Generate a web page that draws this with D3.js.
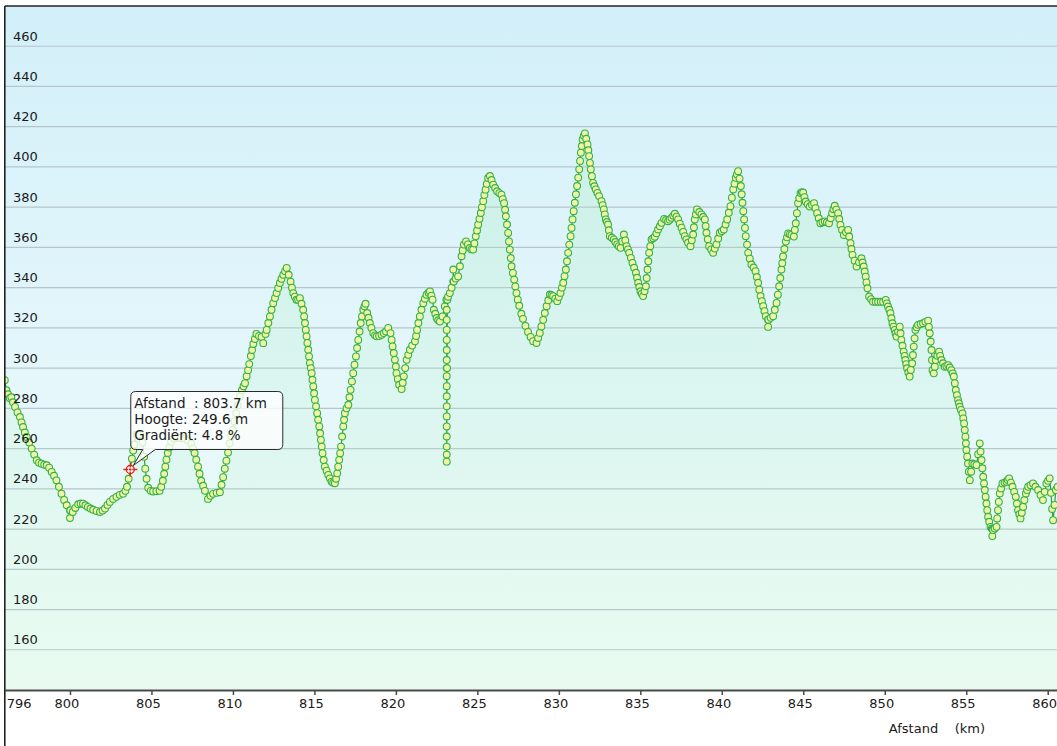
<!DOCTYPE html>
<html>
<head>
<meta charset="utf-8">
<script src="https://cdn.jsdelivr.net/npm/d3@7"></script>
<style>
    body { margin: 0; background: #fff; }
    svg text { font-family: 'DejaVu Sans', Verdana, sans-serif; fill: #1a1a1a; }
</style>
</head>
<body>
<svg id="chart" width="1057" height="746"></svg>
<script>
// elevation profile, [distance km, height m]
let profile = [
    [796.0, 294], [796.1, 289], [796.2, 287], [796.3, 285], [796.4, 285.5], [796.5, 283],
    [796.63, 280.7], [796.78, 278], [796.93, 275.7], [797.03, 273], [797.12, 270.7],
    [797.23, 268], [797.34, 265.8], [797.5, 263], [797.65, 260], [797.8, 257], [797.96, 254.2],
    [798.1, 253], [798.26, 252.5], [798.42, 252], [798.57, 251.7], [798.72, 250.5],
    [798.88, 248.4], [799.02, 246.5], [799.17, 244.2], [799.32, 241], [799.48, 237.6],
    [799.64, 234.5], [799.8, 231.8], [800.0, 229.3], [800.0, 225.5], [800.02, 229.3],
    [800.17, 228.5], [800.33, 230.5], [800.5, 232.3], [800.65, 232.7], [800.8, 232.6],
    [800.95, 231.8], [801.1, 231], [801.26, 230.2], [801.42, 229.6], [801.63, 229],
    [801.84, 228.5], [802.0, 229.2], [802.15, 230.2], [802.3, 232], [802.45, 233.5],
    [802.65, 235], [802.85, 236], [803.05, 237], [803.26, 237.6], [803.4, 239], [803.5, 241],
    [803.6, 245], [803.7, 249.6], [803.8, 255], [803.88, 259], [803.95, 262], [804.1, 267],
    [804.3, 267], [804.45, 263], [804.55, 256], [804.62, 250], [804.7, 245], [804.8, 240.5],
    [804.95, 239], [805.1, 238.7], [805.3, 238.8], [805.5, 239], [805.6, 241], [805.7, 244],
    [805.78, 247.5], [805.85, 251], [805.92, 254.5], [806.0, 257.8], [806.1, 260.5],
    [806.2, 263.4], [806.4, 265], [806.55, 265.5], [806.8, 265.3], [807.05, 265],
    [807.25, 264], [807.45, 262.5], [807.55, 260], [807.65, 257.8], [807.75, 254.5],
    [807.86, 251], [807.95, 247.5], [808.05, 244], [808.17, 241.5], [808.28, 239],
    [808.47, 235], [808.62, 236.5], [808.78, 237.5], [809.0, 238], [809.2, 238.3],
    [809.3, 242], [809.4, 245.8], [809.5, 250], [809.6, 254], [809.7, 258], [809.8, 262.6],
    [809.9, 266], [810.0, 269.3], [810.1, 273.5], [810.2, 277.6], [810.3, 281.5],
    [810.43, 285.9], [810.55, 289], [810.65, 291], [810.74, 292.5], [810.84, 296],
    [810.93, 299], [811.0, 302], [811.1, 306], [811.18, 309], [811.25, 312], [811.35, 314.5],
    [811.44, 317], [811.6, 316], [811.76, 315.5], [811.86, 312.4], [812.0, 317], [812.07, 319],
    [812.17, 322.4], [812.27, 325.7], [812.37, 329], [812.47, 332.3], [812.58, 334.8],
    [812.68, 337.3], [812.78, 339.8], [812.88, 342.3], [812.98, 344.4], [813.09, 346.4],
    [813.2, 348.2], [813.3, 349.8], [813.42, 346.4], [813.54, 343], [813.62, 340],
    [813.7, 337.3], [813.8, 335.5], [813.9, 334], [814.0, 334], [814.11, 334.8], [814.21, 332],
    [814.31, 329], [814.37, 325.7], [814.42, 322.4], [814.47, 319], [814.52, 315.8],
    [814.57, 312.5], [814.62, 309.1], [814.67, 305.8], [814.72, 302.5], [814.78, 300],
    [814.83, 297.5], [814.88, 294.2], [814.93, 290.9], [814.98, 287.5], [815.03, 284.2],
    [815.1, 281], [815.17, 277.6], [815.23, 274.3], [815.3, 271], [815.35, 267.6],
    [815.4, 264.3], [815.45, 261], [815.5, 257.7], [815.57, 254.3], [815.64, 251],
    [815.75, 249], [815.85, 246.9], [815.95, 245.2], [816.05, 243.6], [816.15, 243],
    [816.26, 242.8], [816.33, 245], [816.4, 247.7], [816.46, 251], [816.52, 254.4],
    [816.58, 257.7], [816.63, 261], [816.7, 266], [816.77, 271], [816.82, 274.3],
    [816.87, 277.6], [816.97, 280], [817.08, 281.8], [817.15, 285.5], [817.22, 289.2],
    [817.3, 293.4], [817.38, 297.5], [817.46, 301.7], [817.55, 305.8], [817.62, 310],
    [817.69, 314], [817.77, 318.2], [817.84, 322.4], [817.92, 325.7], [818.0, 329],
    [818.07, 330.7], [818.14, 332], [818.24, 327.4], [818.32, 325], [818.4, 322.4],
    [818.5, 320], [818.61, 317.4], [818.72, 316.3], [818.82, 315.8], [818.97, 316],
    [819.12, 316.6], [819.25, 317.4], [819.39, 318.2], [819.53, 320], [819.67, 317.4],
    [819.74, 314], [819.8, 310.8], [819.87, 307.5], [819.94, 304.1], [820.0, 300.8],
    [820.04, 297.5], [820.12, 294.5], [820.2, 291.7], [820.35, 289.6], [820.42, 292.7],
    [820.49, 295.9], [820.57, 300], [820.66, 304.1], [820.76, 306.6], [820.86, 309.1],
    [821.0, 311.2], [821.17, 313.3], [821.24, 316], [821.3, 319], [821.38, 322.4],
    [821.47, 325.7], [821.57, 329], [821.68, 332.3], [821.78, 334.5], [821.88, 336.5],
    [822.0, 337.5], [822.09, 338.1], [822.18, 336], [822.25, 334], [822.33, 329],
    [822.42, 327], [822.5, 324.9], [822.6, 323.8], [822.7, 323.2], [822.86, 325.7],
    [823.0, 330.7], [823.1, 334],
    // GPS drop-out spike
    [823.12, 329], [823.12, 324], [823.12, 319], [823.12, 314], [823.12, 309], [823.12, 304],
    [823.12, 300], [823.12, 296], [823.12, 291], [823.12, 286], [823.12, 281], [823.12, 276],
    [823.12, 271], [823.12, 266], [823.12, 261], [823.12, 257], [823.12, 253.5],
    [823.14, 300], [823.16, 334],
    [823.2, 335.5], [823.31, 337.3], [823.42, 340], [823.52, 343], [823.52, 349],
    [823.55, 343], [823.67, 344.5], [823.82, 345.6], [823.93, 350.6], [824.03, 355.6],
    [824.1, 358.5], [824.17, 361.4], [824.3, 363], [824.42, 361.5], [824.54, 359.7],
    [824.64, 359], [824.74, 358.9], [824.82, 362], [824.9, 365.5], [824.98, 368.4],
    [825.05, 371.3], [825.13, 374.2], [825.21, 377.1], [825.28, 380], [825.36, 383],
    [825.43, 386], [825.5, 388.7], [825.58, 391.6], [825.66, 394.5], [825.77, 395.5],
    [825.87, 393.5], [825.97, 391.2], [826.09, 389.5], [826.21, 387.9], [826.35, 387],
    [826.48, 386.2], [826.56, 384], [826.64, 382], [826.7, 378.7], [826.75, 375.5],
    [826.82, 371.4], [826.89, 367.2], [826.94, 363], [826.99, 358.9], [827.05, 354.7],
    [827.1, 350.6], [827.18, 347.3], [827.26, 344], [827.33, 340.6], [827.4, 337.3],
    [827.48, 334], [827.57, 331], [827.7, 327], [827.8, 324.5], [827.95, 321], [828.11, 318],
    [828.27, 315.5], [828.42, 313.4], [828.63, 312.5], [828.73, 315], [828.83, 317.5],
    [828.93, 320.7], [829.04, 324], [829.14, 327.4], [829.25, 330.8], [829.35, 333.7],
    [829.45, 336.6], [829.55, 336.2], [829.65, 335.8], [829.78, 334.5], [829.9, 333.3],
    [830.0, 335.3], [830.1, 337.4], [830.19, 340], [830.27, 342.4], [830.35, 345.7],
    [830.43, 349], [830.5, 353.1], [830.57, 357.3], [830.64, 361.4], [830.72, 365.6],
    [830.78, 369.7], [830.84, 373.9], [830.91, 378], [830.98, 382.2], [831.05, 386.4],
    [831.12, 390.5], [831.19, 394.7], [831.25, 398.8], [831.3, 403], [831.35, 407.1],
    [831.41, 410.4], [831.46, 413.7], [831.53, 415.5], [831.6, 416.7], [831.68, 414],
    [831.76, 411.2], [831.81, 408.3], [831.86, 405.4], [831.91, 402], [831.96, 398.8],
    [832.03, 395.4], [832.1, 392.1], [832.18, 390.4], [832.27, 388.8], [832.37, 387.1],
    [832.47, 385.5], [832.62, 383], [832.69, 381], [832.76, 378.9], [832.82, 376.4],
    [832.88, 373.9], [832.95, 372.6], [833.02, 371.4], [833.07, 368.5], [833.13, 365.6],
    [833.25, 364.8], [833.37, 364], [833.47, 362.7], [833.58, 361.5], [833.68, 360.6],
    [833.79, 359.8], [833.89, 363], [833.99, 366.4], [834.08, 363.5], [834.16, 360.6],
    [834.24, 359], [834.32, 357.3], [834.42, 354.8], [834.52, 352.3], [834.62, 349.9],
    [834.73, 347.4], [834.8, 344.9], [834.87, 342.4], [834.94, 340.3], [835.01, 338.2],
    [835.09, 337], [835.17, 335.8], [835.26, 338.2], [835.34, 340.7], [835.39, 344.8],
    [835.44, 349], [835.49, 353.1], [835.54, 357.3], [835.61, 360.6], [835.69, 364],
    [835.79, 364.6], [835.89, 365.3], [835.99, 367], [836.09, 368.9], [836.2, 370.5],
    [836.3, 372.2], [836.46, 374.2], [836.58, 373.6], [836.7, 373], [836.8, 373.8],
    [836.91, 374.7], [837.02, 375.7], [837.12, 376.7], [837.22, 375.3], [837.32, 373.9],
    [837.42, 371.8], [837.53, 369.8], [837.63, 367.7], [837.73, 365.6], [837.83, 364],
    [837.93, 362.3], [838.08, 360.6], [838.16, 363.5], [838.24, 366.4], [838.29, 370],
    [838.34, 373.9], [838.41, 376.4], [838.48, 378.9], [838.62, 377.6], [838.75, 376.4],
    [838.86, 375.1], [838.96, 373.9], [839.01, 370.6], [839.06, 367.3], [839.14, 364],
    [839.22, 360.6], [839.35, 359], [839.47, 357.3], [839.57, 359.4], [839.67, 361.5],
    [839.78, 364.4], [839.88, 367.3], [840.0, 368.1], [840.12, 368.9], [840.23, 371.4],
    [840.33, 373.9], [840.43, 377.2], [840.53, 380.5], [840.62, 384.7], [840.7, 388.8],
    [840.78, 391.7], [840.86, 394.6], [840.93, 396.3], [841.0, 397.9], [841.09, 394.2],
    [841.17, 390.5], [841.22, 386.4], [841.27, 382.2], [841.32, 378], [841.37, 373.9],
    [841.42, 369.7], [841.47, 365.6], [841.55, 361.4], [841.62, 357.3], [841.72, 354.4],
    [841.82, 351.5], [841.95, 350], [842.07, 348.2], [842.15, 345.3], [842.23, 342.4],
    [842.3, 339], [842.38, 335.8], [842.46, 333.3], [842.54, 330.8], [842.62, 328.3],
    [842.7, 325.8], [842.84, 324.1], [842.84, 320.5], [842.86, 324.1], [843.0, 325],
    [843.15, 325.8], [843.25, 329], [843.36, 332.4], [843.44, 336.5], [843.52, 340.7],
    [843.59, 344.8], [843.66, 349], [843.71, 352.2], [843.76, 355.5], [843.84, 359.2],
    [843.93, 362.9], [844.0, 365], [844.07, 367], [844.18, 366.6], [844.28, 366.2],
    [844.42, 365.4], [844.48, 368.7], [844.54, 372], [844.61, 377], [844.68, 382],
    [844.75, 384.5], [844.83, 387], [844.91, 387.5], [844.99, 387.3], [845.07, 385],
    [845.15, 382.8], [845.27, 381.5], [845.4, 380.3], [845.53, 381.2], [845.66, 382],
    [845.75, 379.5], [845.85, 377], [845.95, 374.5], [846.05, 372], [846.18, 372.5],
    [846.32, 372.9], [846.45, 372.5], [846.58, 372], [846.68, 374.5], [846.77, 377],
    [846.85, 379], [846.93, 380.7], [847.03, 378.8], [847.14, 377], [847.21, 374.1],
    [847.28, 371.2], [847.38, 368.7], [847.49, 366.2], [847.62, 367.5], [847.75, 368.7],
    [847.82, 365.4], [847.9, 362.1], [847.96, 359.2], [848.02, 356.3], [848.15, 353.4],
    [848.27, 350.5], [848.42, 352.6], [848.57, 354.6], [848.64, 352.5], [848.71, 350.5],
    [848.77, 348], [848.83, 345.5], [848.88, 342.6], [848.94, 339.7], [849.04, 335.6],
    [849.16, 334.3], [849.28, 333], [849.44, 333], [849.59, 333], [849.75, 333], [849.9, 333],
    [850.06, 333.9], [850.13, 332.2], [850.2, 330.6], [850.28, 329], [850.35, 327.3],
    [850.41, 324.8], [850.47, 322.3], [850.54, 320.6], [850.61, 319], [850.66, 317.3],
    [850.72, 315.7], [850.82, 318.1], [850.92, 320.6], [850.97, 317.3], [851.02, 314],
    [851.09, 311.1], [851.16, 308.2], [851.22, 306.1], [851.27, 304], [851.32, 302],
    [851.37, 299.9], [851.45, 297.8], [851.53, 295.8], [851.6, 299.1], [851.68, 302.4],
    [851.73, 306.5], [851.78, 310.7], [851.83, 314.8], [851.88, 319], [851.96, 320.3],
    [852.04, 321.5], [852.2, 321.9], [852.35, 322.3], [852.5, 323], [852.66, 323.6],
    [852.71, 320.5], [852.76, 317.3], [852.82, 313.2], [852.87, 309], [852.9, 304],
    [852.93, 299], [853.01, 297.4], [853.07, 300.7], [853.13, 304], [853.23, 306.1],
    [853.33, 308.2], [853.4, 306.1], [853.48, 304], [853.58, 302.4], [853.68, 300.7],
    [853.78, 301.1], [853.89, 301.5], [853.99, 300.3], [854.09, 299], [854.17, 297.4],
    [854.24, 295.8], [854.3, 292.5], [854.36, 289.1], [854.43, 286.6], [854.5, 284.1],
    [854.55, 282.5], [854.6, 280.8], [854.68, 279.2], [854.77, 277.5], [854.82, 275],
    [854.87, 272.5], [854.91, 269.2], [854.95, 265.9], [854.98, 262.6], [855.01, 259.3],
    [855.06, 256], [855.11, 252.6], [855.16, 248.5], [855.22, 244.3], [855.3, 248.5],
    [855.38, 252.6], [855.5, 252.2], [855.63, 251.8], [855.73, 257.2], [855.83, 262.6],
    [855.88, 258.5], [855.94, 254.3], [855.99, 250.2], [856.04, 246], [856.09, 242.7],
    [856.14, 239.4], [856.19, 236], [856.24, 232.7], [856.29, 229.4], [856.34, 226.1],
    [856.41, 223.6], [856.49, 221.1], [856.57, 220.3], [856.6, 216.5], [856.62, 220],
    [856.65, 219.5], [856.75, 220.3], [856.86, 221.1], [856.9, 225.3], [856.95, 229.4],
    [857.0, 233.5], [857.06, 237.7], [857.14, 240.2], [857.22, 242.7], [857.35, 243.1],
    [857.47, 243.5], [857.55, 244.4], [857.63, 245.2], [857.74, 243.1], [857.84, 241],
    [857.94, 238.5], [858.04, 236], [858.11, 232.7], [858.18, 229.4], [858.26, 227.3],
    [858.33, 225.3], [858.41, 228.1], [858.49, 231], [858.57, 234.4], [858.66, 237.7],
    [858.73, 239.4], [858.8, 241], [858.95, 241.8], [859.1, 242.7], [859.25, 241],
    [859.41, 239.4], [859.56, 236.9], [859.71, 234.4], [859.82, 238.5], [859.92, 242.7],
    [860.02, 244], [860.12, 245.2], [860.2, 238], [860.27, 230], [860.33, 224.4],
    [860.42, 232], [860.5, 239.4], [860.6, 241]
];

let xTicks = [796, 800, 805, 810, 815, 820, 825, 830, 835, 840, 845, 850, 855, 860];
let yTicks = [160, 180, 200, 220, 240, 260, 280, 300, 320, 340, 360, 380, 400, 420, 440, 460];

// the point under the mouse
let hover = { km: 803.7, m: 249.6, grade: 4.8 };
let hoverLines = [
    'Afstand  : ' + hover.km + ' km',
    'Hoogte: ' + hover.m + ' m',
    'Gradiënt: ' + hover.grade + ' %'
];
let axisTitle = 'Afstand    (km)';

let W = 1057, H = 746;
let pL = 4.8, pT = 6, pR = W, pB = 690;

let x = d3.scaleLinear().domain([796, 860.57]).range([pL, pR]);
let y = d3.scaleLinear().domain([140, 480]).range([pB, pT]);

let svg = d3.select('#chart');
let defs = svg.append('defs');

let bg = defs.append('linearGradient')
    .attr('id', 'bg').attr('x1', 0).attr('y1', 0).attr('x2', 0).attr('y2', 1);
bg.append('stop').attr('offset', '0%').attr('stop-color', '#d2eff9');
bg.append('stop').attr('offset', '55%').attr('stop-color', '#e5f7fb');
bg.append('stop').attr('offset', '100%').attr('stop-color', '#eefcf4');

let fillGrad = defs.append('linearGradient')
    .attr('id', 'areaFill').attr('x1', 0).attr('y1', 0).attr('x2', 0).attr('y2', 1);
fillGrad.append('stop').attr('offset', '0%').attr('stop-color', '#9ee8b0').attr('stop-opacity', 0.24);
fillGrad.append('stop').attr('offset', '100%').attr('stop-color', '#c4f5d4').attr('stop-opacity', 0.12);

defs.append('clipPath').attr('id', 'plotClip')
    .append('rect')
    .attr('x', pL).attr('y', pT)
    .attr('width', pR - pL).attr('height', pB - pT);

svg.append('rect')
    .attr('x', pL).attr('y', pT)
    .attr('width', pR - pL).attr('height', pB - pT)
    .attr('fill', 'url(#bg)');

// horizontal grid
svg.append('g').attr('class', 'grid')
    .selectAll('line')
    .data(yTicks)
    .join('line')
    .attr('x1', pL).attr('x2', pR)
    .attr('y1', d => y(d)).attr('y2', d => y(d))
    .attr('stroke', '#b7c5cb')
    .attr('stroke-width', 1.2);

let plot = svg.append('g').attr('clip-path', 'url(#plotClip)');

let area = d3.area()
    .x(d => x(d[0]))
    .y0(pB)
    .y1(d => y(d[1]));

let line = d3.line()
    .x(d => x(d[0]))
    .y(d => y(d[1]));

plot.append('path')
    .datum(profile)
    .attr('d', area)
    .attr('fill', 'url(#areaFill)');

plot.append('path')
    .datum(profile)
    .attr('d', line)
    .attr('fill', 'none')
    .attr('stroke', '#2f9e3f')
    .attr('stroke-width', 1.2);

plot.append('g').attr('class', 'dots')
    .selectAll('circle')
    .data(profile)
    .join('circle')
    .attr('cx', d => x(d[0]))
    .attr('cy', d => y(d[1]))
    .attr('r', 3.4)
    .attr('fill', '#eef6a6')
    .attr('stroke', '#38b048')
    .attr('stroke-width', 1.1);

// y labels sit just above their grid line
svg.append('g').attr('class', 'y-labels')
    .selectAll('text')
    .data(yTicks)
    .join('text')
    .attr('x', 13)
    .attr('y', d => y(d) - 5.5)
    .attr('font-size', '13px')
    .text(d => d);

// x axis
let xAxis = d3.axisBottom(x)
    .tickValues(xTicks)
    .tickSize(5)
    .tickSizeOuter(0)
    .tickFormat(d3.format('d'));

let gx = svg.append('g')
    .attr('transform', 'translate(0,' + pB + ')')
    .call(xAxis);
gx.select('.domain').attr('stroke', '#4a4a4a').attr('stroke-width', 2);
gx.selectAll('.tick line').attr('stroke', '#4a4a4a').attr('stroke-width', 1.5);
gx.selectAll('.tick text')
    .attr('fill', '#1a1a1a')
    .attr('font-size', '13px')
    .attr('font-family', "'DejaVu Sans', Verdana, sans-serif")
    .attr('y', 9)
    .attr('dy', '0.71em')
    .attr('dx', -3.5);
gx.selectAll('.tick')
    .filter(d => d === 796)
    .select('text')
    .attr('text-anchor', 'start')
    .attr('dx', 1.5);
gx.selectAll('.tick')
    .filter(d => d === 796)
    .select('line').remove();

svg.append('text')
    .attr('x', 985)
    .attr('y', 733)
    .attr('text-anchor', 'end')
    .attr('font-size', '13px')
    .style('white-space', 'pre')
    .text(axisTitle);

// frame: top and left edges
svg.append('line')
    .attr('x1', pL).attr('x2', pR)
    .attr('y1', pT).attr('y2', pT)
    .attr('stroke', '#222').attr('stroke-width', 1.6);
svg.append('line')
    .attr('x1', pL).attr('x2', pL)
    .attr('y1', pT).attr('y2', H)
    .attr('stroke', '#222').attr('stroke-width', 1.6);

// tooltip with callout
let mx = x(hover.km), my = y(hover.m);
let bx = mx + 0.5, by = my - 78, bw = 152, bh = 58, rr = 5;
let tipPath = 'M' + (bx + rr) + ',' + by +
    ' H' + (bx + bw - rr) + ' Q' + (bx + bw) + ',' + by + ' ' + (bx + bw) + ',' + (by + rr) +
    ' V' + (by + bh - rr) + ' Q' + (bx + bw) + ',' + (by + bh) + ' ' + (bx + bw - rr) + ',' + (by + bh) +
    ' H' + (mx + 25) + ' L' + (mx + 3) + ',' + (my - 4) + ' L' + (mx + 12.5) + ',' + (by + bh) +
    ' H' + (bx + rr) + ' Q' + bx + ',' + (by + bh) + ' ' + bx + ',' + (by + bh - rr) +
    ' V' + (by + rr) + ' Q' + bx + ',' + by + ' ' + (bx + rr) + ',' + by + ' Z';

let tip = svg.append('g').attr('class', 'tooltip');
tip.append('path')
    .attr('d', tipPath)
    .attr('fill', '#ffffff')
    .attr('fill-opacity', 0.78)
    .attr('stroke', '#2b2b2b')
    .attr('stroke-width', 1);
tip.selectAll('text')
    .data(hoverLines)
    .join('text')
    .attr('x', bx + 3.5)
    .attr('y', (d, i) => by + 16 + i * 16)
    .attr('font-size', '13.5px')
    .style('white-space', 'pre')
    .text(d => d);

// red crosshair marker
let mk = svg.append('g')
    .attr('transform', 'translate(' + mx + ',' + my + ')');
mk.append('circle')
    .attr('r', 4)
    .attr('fill', '#fff')
    .attr('stroke', '#e3231b')
    .attr('stroke-width', 1.3);
mk.append('circle').attr('r', 1.3).attr('fill', '#e3231b');
mk.append('path')
    .attr('d', 'M-7,0 H-2 M2,0 H7 M0,-7 V-2 M0,2 V7')
    .attr('stroke', '#e3231b')
    .attr('stroke-width', 1.3);
</script>
</body>
</html>
